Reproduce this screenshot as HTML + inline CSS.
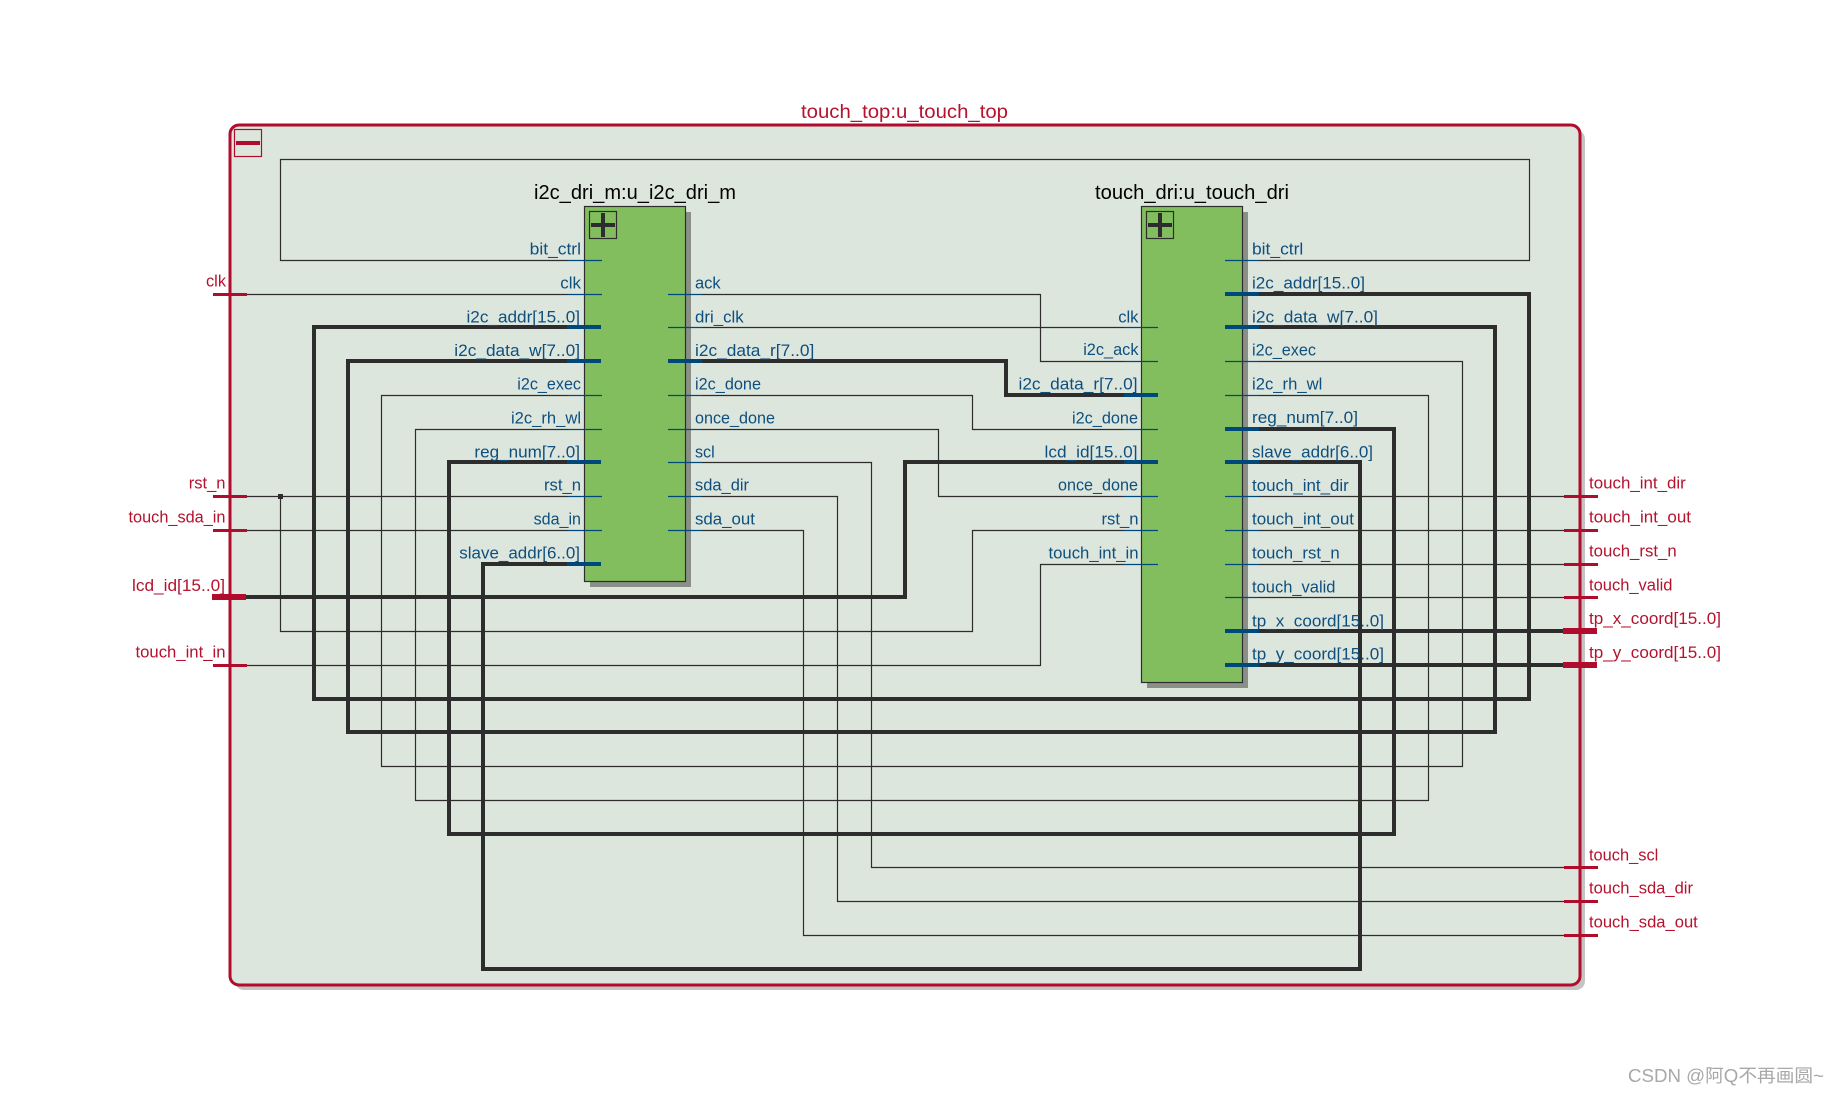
<!DOCTYPE html>
<html><head><meta charset="utf-8"><style>
html,body{margin:0;padding:0;background:#fff;width:1839px;height:1096px;overflow:hidden}
svg{display:block}
text{font-family:"Liberation Sans","Noto Sans CJK SC",sans-serif}
.t{fill:none;stroke:#2d2d2d;stroke-width:1.2}
.w{fill:none;stroke:#2d2d2d;stroke-width:4}
.pt{stroke:#00477a;stroke-width:1.2}
.pw{stroke:#00477a;stroke-width:4}
.rt{stroke:#b00c2d;stroke-width:3}
.rw{stroke:#b00c2d;stroke-width:6}
.l{font-size:17px;fill:#0e4f7e}
.e{text-anchor:end}
.r{font-size:17px;fill:#b5122e}
</style></head><body>
<svg width="1839" height="1096" viewBox="0 0 1839 1096" xmlns="http://www.w3.org/2000/svg">
<rect x="235" y="130" width="1350" height="860" rx="9" fill="#c4c4c4"/>
<rect x="230" y="125" width="1350" height="860" rx="9" fill="#dde6dd" stroke="#b00c2d" stroke-width="3"/>
<rect x="234.5" y="129.5" width="27" height="27" fill="none" stroke="#b00c2d" stroke-width="1.2"/>
<rect x="236" y="141" width="24" height="4" fill="#b00c2d"/>
<text x="904.5" y="118" text-anchor="middle" font-size="19" fill="#b5122e" textLength="207" lengthAdjust="spacingAndGlyphs">touch_top:u_touch_top</text>

<!-- thin wires -->
<polyline class="t" points="568,260.5 280.5,260.5 280.5,159.5 1529.5,159.5 1529.5,260.5 1259,260.5"/>
<polyline class="t" points="246,294.5 568,294.5"/>
<polyline class="t" points="568,395.5 381.5,395.5 381.5,766.5 1462.5,766.5 1462.5,361.5 1259,361.5"/>
<polyline class="t" points="568,429.5 415.5,429.5 415.5,800.5 1428.5,800.5 1428.5,395.5 1259,395.5"/>
<polyline class="t" points="246,496.5 568,496.5"/>
<polyline class="t" points="280.5,496.5 280.5,631.5 972.5,631.5 972.5,530.5 1124,530.5"/>
<polyline class="t" points="246,530.5 568,530.5"/>
<polyline class="t" points="246,665.5 1040.5,665.5 1040.5,564.5 1124,564.5"/>
<polyline class="t" points="702,294.5 1040.5,294.5 1040.5,361.5 1124,361.5"/>
<polyline class="t" points="702,327.5 1124,327.5"/>
<polyline class="t" points="702,395.5 972.5,395.5 972.5,429.5 1124,429.5"/>
<polyline class="t" points="702,429.5 938.5,429.5 938.5,496.5 1124,496.5"/>
<polyline class="t" points="702,462.5 871.5,462.5 871.5,867.5 1564,867.5"/>
<polyline class="t" points="702,496.5 837.5,496.5 837.5,901.5 1564,901.5"/>
<polyline class="t" points="702,530.5 803.5,530.5 803.5,935.5 1564,935.5"/>
<polyline class="t" points="1259,496.5 1564,496.5"/>
<polyline class="t" points="1259,530.5 1564,530.5"/>
<polyline class="t" points="1259,564.5 1564,564.5"/>
<polyline class="t" points="1259,597.5 1564,597.5"/>

<!-- bus wires -->
<polyline class="w" points="568,327 314,327 314,699 1529,699 1529,294 1259,294"/>
<polyline class="w" points="568,361 348,361 348,732 1495,732 1495,327 1259,327"/>
<polyline class="w" points="568,462 449,462 449,834 1394,834 1394,429 1259,429"/>
<polyline class="w" points="568,564 483,564 483,969 1360,969 1360,462 1259,462"/>
<polyline class="w" points="246,597 905,597 905,462 1124,462"/>
<polyline class="w" points="702,361 1006,361 1006,395 1124,395"/>
<polyline class="w" points="1259,631 1564,631"/>
<polyline class="w" points="1259,665 1564,665"/>
<rect x="278" y="494" width="5" height="5" fill="#2d2d2d"/>

<!-- blocks -->
<rect x="590" y="212" width="101" height="375" fill="#8a8f88"/>
<rect x="584.5" y="206.5" width="101" height="375" fill="#82be5e" stroke="#2d2d2d" stroke-width="1.2"/>
<rect x="589.5" y="211.5" width="27" height="27" fill="none" stroke="#2d2d2d" stroke-width="1.2"/>
<rect x="591" y="223" width="24" height="4" fill="#2d2d2d"/><rect x="601" y="213" width="4" height="24" fill="#2d2d2d"/>
<rect x="1147" y="212" width="101" height="476" fill="#8a8f88"/>
<rect x="1141.5" y="206.5" width="101" height="476" fill="#82be5e" stroke="#2d2d2d" stroke-width="1.2"/>
<rect x="1146.5" y="211.5" width="27" height="27" fill="none" stroke="#2d2d2d" stroke-width="1.2"/>
<rect x="1148" y="223" width="24" height="4" fill="#2d2d2d"/><rect x="1158" y="213" width="4" height="24" fill="#2d2d2d"/>
<text x="635" y="199" text-anchor="middle" font-size="20" fill="#000" textLength="202" lengthAdjust="spacingAndGlyphs">i2c_dri_m:u_i2c_dri_m</text>
<text x="1192" y="199" text-anchor="middle" font-size="20" fill="#000" textLength="194" lengthAdjust="spacingAndGlyphs">touch_dri:u_touch_dri</text>

<!-- pin stubs -->
<g class="pt">
<line x1="568" x2="602" y1="260.5" y2="260.5"/><line x1="568" x2="602" y1="294.5" y2="294.5"/><line x1="568" x2="602" y1="395.5" y2="395.5"/><line x1="568" x2="602" y1="429.5" y2="429.5"/><line x1="568" x2="602" y1="496.5" y2="496.5"/><line x1="568" x2="602" y1="530.5" y2="530.5"/>
<line x1="668" x2="702" y1="294.5" y2="294.5"/><line x1="668" x2="702" y1="327.5" y2="327.5"/><line x1="668" x2="702" y1="395.5" y2="395.5"/><line x1="668" x2="702" y1="429.5" y2="429.5"/><line x1="668" x2="702" y1="462.5" y2="462.5"/><line x1="668" x2="702" y1="496.5" y2="496.5"/><line x1="668" x2="702" y1="530.5" y2="530.5"/>
<line x1="1124" x2="1158" y1="327.5" y2="327.5"/><line x1="1124" x2="1158" y1="361.5" y2="361.5"/><line x1="1124" x2="1158" y1="429.5" y2="429.5"/><line x1="1124" x2="1158" y1="496.5" y2="496.5"/><line x1="1124" x2="1158" y1="530.5" y2="530.5"/><line x1="1124" x2="1158" y1="564.5" y2="564.5"/>
<line x1="1225" x2="1259" y1="260.5" y2="260.5"/><line x1="1225" x2="1259" y1="361.5" y2="361.5"/><line x1="1225" x2="1259" y1="395.5" y2="395.5"/><line x1="1225" x2="1259" y1="496.5" y2="496.5"/><line x1="1225" x2="1259" y1="530.5" y2="530.5"/><line x1="1225" x2="1259" y1="564.5" y2="564.5"/><line x1="1225" x2="1259" y1="597.5" y2="597.5"/>
</g>
<g class="pw">
<line x1="567" x2="601" y1="327" y2="327"/><line x1="567" x2="601" y1="361" y2="361"/><line x1="567" x2="601" y1="462" y2="462"/><line x1="567" x2="601" y1="564" y2="564"/>
<line x1="668" x2="702" y1="361" y2="361"/>
<line x1="1124" x2="1158" y1="395" y2="395"/><line x1="1124" x2="1158" y1="462" y2="462"/>
<line x1="1225" x2="1259" y1="294" y2="294"/><line x1="1225" x2="1259" y1="327" y2="327"/><line x1="1225" x2="1259" y1="429" y2="429"/><line x1="1225" x2="1259" y1="462" y2="462"/><line x1="1225" x2="1259" y1="631" y2="631"/><line x1="1225" x2="1259" y1="665" y2="665"/>
</g>

<!-- ports -->
<g class="rt">
<line x1="213" x2="247" y1="294.5" y2="294.5"/><line x1="213" x2="247" y1="496.5" y2="496.5"/><line x1="213" x2="247" y1="530.5" y2="530.5"/><line x1="213" x2="247" y1="665.5" y2="665.5"/>
<line x1="1564" x2="1598" y1="496.5" y2="496.5"/><line x1="1564" x2="1598" y1="530.5" y2="530.5"/><line x1="1564" x2="1598" y1="564.5" y2="564.5"/><line x1="1564" x2="1598" y1="597.5" y2="597.5"/>
<line x1="1564" x2="1598" y1="867.5" y2="867.5"/><line x1="1564" x2="1598" y1="901.5" y2="901.5"/><line x1="1564" x2="1598" y1="935.5" y2="935.5"/>
</g>
<g class="rw">
<line x1="212" x2="246" y1="597" y2="597"/><line x1="1563" x2="1597" y1="631" y2="631"/><line x1="1563" x2="1597" y1="665" y2="665"/>
</g>

<!-- block 1 left labels -->
<g class="l e">
<text x="581" y="254.5" textLength="51.3" lengthAdjust="spacingAndGlyphs">bit_ctrl</text>
<text x="581" y="288.5" textLength="20.7" lengthAdjust="spacingAndGlyphs">clk</text>
<text x="580" y="322.5" textLength="113.5" lengthAdjust="spacingAndGlyphs">i2c_addr[15..0]</text>
<text x="580" y="356" textLength="125.7" lengthAdjust="spacingAndGlyphs">i2c_data_w[7..0]</text>
<text x="581" y="389.5" textLength="63.7" lengthAdjust="spacingAndGlyphs">i2c_exec</text>
<text x="581" y="423.5" textLength="70" lengthAdjust="spacingAndGlyphs">i2c_rh_wl</text>
<text x="580" y="457.5" textLength="105.6" lengthAdjust="spacingAndGlyphs">reg_num[7..0]</text>
<text x="581" y="490.5" textLength="37" lengthAdjust="spacingAndGlyphs">rst_n</text>
<text x="581" y="524.5" textLength="47.4" lengthAdjust="spacingAndGlyphs">sda_in</text>
<text x="580" y="558.5" textLength="120.7" lengthAdjust="spacingAndGlyphs">slave_addr[6..0]</text>
</g>
<!-- block 1 right labels -->
<g class="l">
<text x="695" y="288.5" textLength="25.7" lengthAdjust="spacingAndGlyphs">ack</text>
<text x="695" y="322.5" textLength="48.7" lengthAdjust="spacingAndGlyphs">dri_clk</text>
<text x="695" y="356" textLength="119.3" lengthAdjust="spacingAndGlyphs">i2c_data_r[7..0]</text>
<text x="695" y="389.5" textLength="66" lengthAdjust="spacingAndGlyphs">i2c_done</text>
<text x="695" y="423.5" textLength="80" lengthAdjust="spacingAndGlyphs">once_done</text>
<text x="695" y="457.5" textLength="19.7" lengthAdjust="spacingAndGlyphs">scl</text>
<text x="695" y="490.5" textLength="54" lengthAdjust="spacingAndGlyphs">sda_dir</text>
<text x="695" y="524.5" textLength="60" lengthAdjust="spacingAndGlyphs">sda_out</text>
</g>
<!-- block 2 left labels -->
<g class="l e">
<text x="1138.5" y="322.5" textLength="20.3" lengthAdjust="spacingAndGlyphs">clk</text>
<text x="1138.5" y="355" textLength="55.3" lengthAdjust="spacingAndGlyphs">i2c_ack</text>
<text x="1137.5" y="389.5" textLength="119" lengthAdjust="spacingAndGlyphs">i2c_data_r[7..0]</text>
<text x="1138" y="423.5" textLength="66" lengthAdjust="spacingAndGlyphs">i2c_done</text>
<text x="1137.5" y="457.5" textLength="93" lengthAdjust="spacingAndGlyphs">lcd_id[15..0]</text>
<text x="1138" y="490.5" textLength="80" lengthAdjust="spacingAndGlyphs">once_done</text>
<text x="1138.5" y="524.5" textLength="37" lengthAdjust="spacingAndGlyphs">rst_n</text>
<text x="1138.5" y="558.5" textLength="90" lengthAdjust="spacingAndGlyphs">touch_int_in</text>
</g>
<!-- block 2 right labels -->
<g class="l">
<text x="1252" y="254.5" textLength="51.3" lengthAdjust="spacingAndGlyphs">bit_ctrl</text>
<text x="1252" y="288.5" textLength="113" lengthAdjust="spacingAndGlyphs">i2c_addr[15..0]</text>
<text x="1252" y="322.5" textLength="126" lengthAdjust="spacingAndGlyphs">i2c_data_w[7..0]</text>
<text x="1252" y="355.5" textLength="64" lengthAdjust="spacingAndGlyphs">i2c_exec</text>
<text x="1252" y="389.5" textLength="70.3" lengthAdjust="spacingAndGlyphs">i2c_rh_wl</text>
<text x="1252" y="423" textLength="106" lengthAdjust="spacingAndGlyphs">reg_num[7..0]</text>
<text x="1252" y="457.5" textLength="121" lengthAdjust="spacingAndGlyphs">slave_addr[6..0]</text>
<text x="1252" y="491" textLength="96.8" lengthAdjust="spacingAndGlyphs">touch_int_dir</text>
<text x="1252" y="524.5" textLength="102" lengthAdjust="spacingAndGlyphs">touch_int_out</text>
<text x="1252" y="558.5" textLength="87.7" lengthAdjust="spacingAndGlyphs">touch_rst_n</text>
<text x="1252" y="592.5" textLength="83.5" lengthAdjust="spacingAndGlyphs">touch_valid</text>
<text x="1252" y="626.5" textLength="132" lengthAdjust="spacingAndGlyphs">tp_x_coord[15..0]</text>
<text x="1252" y="659.5" textLength="132" lengthAdjust="spacingAndGlyphs">tp_y_coord[15..0]</text>
</g>
<!-- port labels -->
<g class="r e">
<text x="226" y="286.5" textLength="20" lengthAdjust="spacingAndGlyphs">clk</text>
<text x="225.5" y="488.5" textLength="36.8" lengthAdjust="spacingAndGlyphs">rst_n</text>
<text x="225.5" y="522.5" textLength="97" lengthAdjust="spacingAndGlyphs">touch_sda_in</text>
<text x="225" y="591" textLength="93" lengthAdjust="spacingAndGlyphs">lcd_id[15..0]</text>
<text x="225.5" y="657.5" textLength="90" lengthAdjust="spacingAndGlyphs">touch_int_in</text>
</g>
<g class="r">
<text x="1589" y="488.5" textLength="96.8" lengthAdjust="spacingAndGlyphs">touch_int_dir</text>
<text x="1589" y="522.5" textLength="102" lengthAdjust="spacingAndGlyphs">touch_int_out</text>
<text x="1589" y="556.5" textLength="87.7" lengthAdjust="spacingAndGlyphs">touch_rst_n</text>
<text x="1589" y="590.5" textLength="83.5" lengthAdjust="spacingAndGlyphs">touch_valid</text>
<text x="1589" y="624" textLength="132" lengthAdjust="spacingAndGlyphs">tp_x_coord[15..0]</text>
<text x="1589" y="658" textLength="132" lengthAdjust="spacingAndGlyphs">tp_y_coord[15..0]</text>
<text x="1589" y="860.5" textLength="69.3" lengthAdjust="spacingAndGlyphs">touch_scl</text>
<text x="1589" y="893.5" textLength="104" lengthAdjust="spacingAndGlyphs">touch_sda_dir</text>
<text x="1589" y="927.5" textLength="108.8" lengthAdjust="spacingAndGlyphs">touch_sda_out</text>
</g>
<text x="1628" y="1082" font-size="18" fill="#a8a8a8" textLength="196" lengthAdjust="spacingAndGlyphs">CSDN @阿Q不再画圆~</text>
</svg>
</body></html>
